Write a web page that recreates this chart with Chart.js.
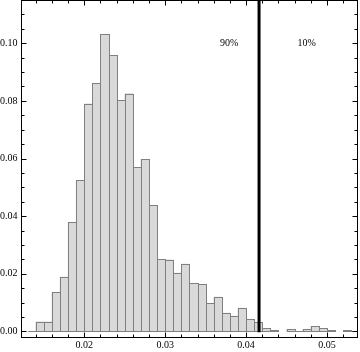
<!DOCTYPE html>
<html><head><meta charset="utf-8">
<script src="https://cdn.jsdelivr.net/npm/chart.js@4.4.0/dist/chart.umd.min.js"></script>
<style>html,body{margin:0;padding:0;background:#fff}#wrap{width:360px;height:352px}</style>
</head><body><div id="wrap"><canvas id="c" width="360" height="352"></canvas></div>
<script>
// Histogram bins (left edges) and fraction of samples per bin
const binStarts = [0.013,0.014,0.015,0.016,0.017,0.018,0.019,0.020,0.021,0.022,0.023,0.024,0.025,0.026,0.027,0.028,0.029,0.030,0.031,0.032,0.033,0.034,0.035,0.036,0.037,0.038,0.039,0.040,0.041,0.042,0.043,0.044,0.045,0.046,0.047,0.048,0.049,0.050,0.051,0.052,0.053];
const binWidth = 0.001;
const fractions = [0,0.0033,0.0033,0.0135,0.0188,0.0378,0.0524,0.0790,0.0861,0.1031,0.0958,0.0802,0.0825,0.0569,0.0597,0.0437,0.0250,0.0248,0.0202,0.0233,0.0167,0.0163,0.0097,0.0119,0.0063,0.0053,0.0081,0.0042,0.0031,0.0010,0.0003,null,0.0007,0,0.0007,0.0017,0.0010,0.0003,null,0.0003,0];
const xTicks = [0.02,0.03,0.04,0.05];
const xTickLabels = ['0.02','0.03','0.04','0.05'];
const yTicks = [0,0.02,0.04,0.06,0.08,0.10];
const yTickLabels = ['0.00','0.02','0.04','0.06','0.08','0.10'];
const cutoff = 0.0416;
const regionLabels = ['90%','10%'];
const regionLabelX = [0.0379,0.0475];
const regionLabelY = [0.10,0.10];

const FONT = '"Liberation Serif", "Times New Roman", serif';

const overlay = {
  id: 'overlay',
  afterDatasetsDraw(chart) {
    const ctx = chart.ctx, xs = chart.scales.x, ys = chart.scales.y, a = chart.chartArea;
    const meta = chart.getDatasetMeta(0);
    ctx.save();
    ctx.beginPath(); ctx.rect(a.left, a.top, a.right - a.left, a.bottom - a.top); ctx.clip();
    ctx.lineWidth = 1;
    meta.data.forEach((el, i) => {
      if (fractions[i] === null) return;
      const p = el.getProps(['x','y','base','width'], true);
      const l = Math.round(p.x - p.width/2) + 0.5, r = Math.round(p.x + p.width/2) + 0.5;
      const t = Math.round(p.y) + 0.5, b = Math.round(p.base) + 0.5;
      ctx.fillStyle = '#d9d9d9';
      ctx.fillRect(l, t, r - l, b - t);
      ctx.strokeStyle = '#808080';
      ctx.strokeRect(l, t, r - l, b - t);
    });
    // cutoff line
    const cx = xs.getPixelForValue(cutoff);
    ctx.strokeStyle = '#000'; ctx.lineWidth = 3;
    ctx.beginPath(); ctx.moveTo(cx, ys.getPixelForValue(0) + 1); ctx.lineTo(cx, a.top); ctx.stroke();
    // region labels
    ctx.fillStyle = '#000'; ctx.font = '10px ' + FONT;
    ctx.textAlign = 'center'; ctx.textBaseline = 'middle';
    regionLabels.forEach((s, i) => ctx.fillText(s, xs.getPixelForValue(regionLabelX[i]), ys.getPixelForValue(regionLabelY[i])));
    ctx.restore();
  },
  afterDraw(chart) {
    const ctx = chart.ctx, xs = chart.scales.x, ys = chart.scales.y, a = chart.chartArea;
    ctx.save();
    ctx.strokeStyle = '#000'; ctx.lineWidth = 1;
    ctx.strokeRect(a.left, a.top, a.right - a.left, a.bottom - a.top);
    ctx.beginPath();
    for (let k = 6; k <= 27; k++) {
      const v = k * 0.002;
      if (v < xs.min || v > xs.max) continue;
      const len = (k % 5 === 0) ? 5 : 3;
      const px = Math.round(xs.getPixelForValue(v)) + 0.5;
      ctx.moveTo(px, a.bottom); ctx.lineTo(px, a.bottom - len);
      ctx.moveTo(px, a.top); ctx.lineTo(px, a.top + len);
    }
    for (let k = 0; k <= 23; k++) {
      const v = k * 0.005;
      if (v < ys.min || v > ys.max) continue;
      const len = (k % 4 === 0) ? 5 : 3;
      const py = Math.round(ys.getPixelForValue(v)) + 0.5;
      ctx.moveTo(a.left, py); ctx.lineTo(a.left + len, py);
      ctx.moveTo(a.right, py); ctx.lineTo(a.right - len, py);
    }
    ctx.stroke();
    ctx.restore();
  }
};

new Chart(document.getElementById('c'), {
  type: 'bar',
  data: {
    datasets: [{
      data: binStarts.map((b, i) => ({ x: b + binWidth / 2, y: fractions[i] })),
      backgroundColor: '#d9d9d9',
      borderWidth: 0,
      barPercentage: 1,
      categoryPercentage: 1
    }]
  },
  options: {
    responsive: false,
    animation: false,
    devicePixelRatio: 1,
    layout: { padding: { top: 0.5, right: 2.5, left: 0, bottom: 0 } },
    plugins: { legend: { display: false }, tooltip: { enabled: false } },
    scales: {
      x: {
        type: 'linear', min: 0.012237, max: 0.05377, offset: false,
        grid: { display: false, drawTicks: false }, border: { display: false },
        afterBuildTicks: s => { s.ticks = xTicks.map(v => ({ value: v })); },
        afterFit: s => { s.height = 14.5; s.paddingLeft = 0; s.paddingRight = 0; s.paddingTop = 0; s.paddingBottom = 0; },
        ticks: { autoSkip: false, maxRotation: 0, padding: 2, color: '#000',
                 font: { family: FONT, size: 10 }, callback: (v, i) => xTickLabels[i] }
      },
      y: {
        type: 'linear', min: -0.00215, max: 0.11486,
        grid: { display: false, drawTicks: false }, border: { display: false },
        afterBuildTicks: s => { s.ticks = yTicks.map(v => ({ value: v })); },
        afterFit: s => { s.width = 21.5; s.paddingLeft = 0; s.paddingRight = 0; s.paddingTop = 0; s.paddingBottom = 0; },
        ticks: { autoSkip: false, padding: 4, color: '#000',
                 font: { family: FONT, size: 10 }, callback: (v, i) => yTickLabels[i] }
      }
    }
  },
  plugins: [overlay]
});
</script>
</body></html>
